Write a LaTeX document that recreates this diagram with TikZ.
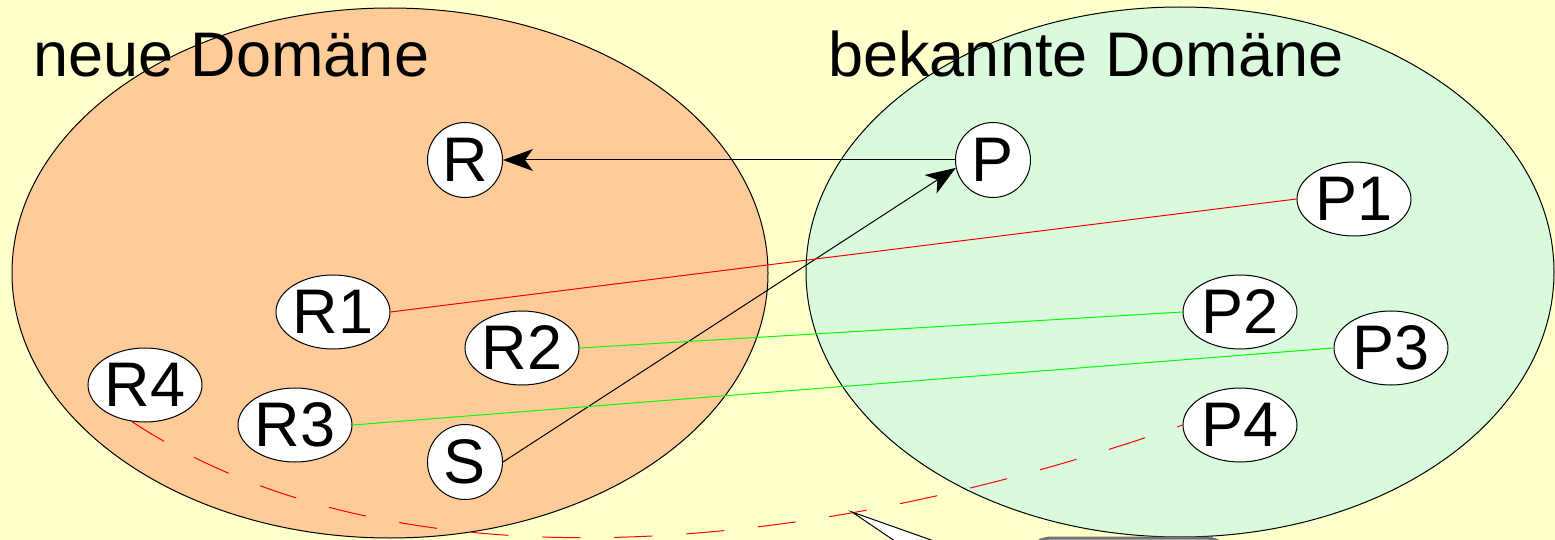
\documentclass[tikz,border=0pt]{standalone}
\usepackage{fontspec}
\setmainfont{Liberation Sans}
\usetikzlibrary{shapes.geometric,arrows.meta}
\definecolor{hgrund}{RGB}{255,255,204}
\definecolor{neufarbe}{RGB}{255,204,153}
\definecolor{bekfarbe}{RGB}{217,250,220}

\begin{document}
\begin{tikzpicture}[
	x=0.5pt, y=-0.5pt,
	>={Stealth[length=15pt, width=11pt, inset=4pt]},
	domaene/.style={draw=black, line width=0.5pt},
	titel/.style={anchor=base west, inner sep=0pt, font=\fontsize{31.5}{36}\selectfont},
	kreis/.style={circle, draw=black, fill=white, line width=0.5pt, inner sep=0pt, minimum size=37.5pt, font=\fontsize{31.5}{36}\selectfont},
	oval/.style={ellipse, draw=black, fill=white, line width=0.5pt, inner sep=0pt, minimum width=57pt, minimum height=37pt, font=\fontsize{31.5}{36}\selectfont},
	pfeil/.style={->, line width=0.5pt, black},
	paar/.style={line width=0.5pt},
]
\fill[hgrund] (0,0) rectangle (1555,540);
\clip (0,0) rectangle (1555,540);

% Domaenen
\draw[domaene, fill=neufarbe] (390,273) ellipse [x radius=189pt, y radius=132.5pt];
\draw[domaene, fill=bekfarbe] (1180,272) ellipse [x radius=187pt, y radius=132.5pt];
\node[titel] (tneu) at (33,77) {neue Domäne};
\node[titel] (tbek) at (828,77) {bekannte Domäne};

% Knoten
\node[kreis] (R)  at (465,160) {R};
\node[kreis] (P)  at (993,160) {P};
\node[kreis] (S)  at (465,462) {S};
\node[oval]  (R1) at (333,312) {R1};
\node[oval]  (R2) at (522,348) {R2};
\node[oval]  (R3) at (295,425) {R3};
\node[oval]  (R4) at (145,385) {R4};
\node[oval]  (P1) at (1354,199) {P1};
\node[oval]  (P2) at (1240,312) {P2};
\node[oval]  (P3) at (1391,348) {P3};
\node[oval]  (P4) at (1240,425) {P4};

% Verbindungen
\draw[pfeil] (P) -- (R);
\draw[pfeil] (S.east) -- (P.192);
\draw[paar, red] (R1.east) -- (P1.west);
\draw[paar, green] (R2.east) -- (P2.west);
\draw[paar, green] (R3.east) -- (P3.west);
\draw[paar, red, dash pattern=on 19pt off 17pt] (R4.250) .. controls +(250,165) and +(-400,140) .. (P4.west);

% Sprechblase (abgeschnitten)
\draw[fill=white, line width=0.5pt] (852,512) -- (945,575) -- (1030,575) -- cycle;
\draw[fill=white, draw=black!55, line width=1.5pt, rounded corners=15pt] (1022,538) rectangle (1235,640);
\end{tikzpicture}
\end{document}
